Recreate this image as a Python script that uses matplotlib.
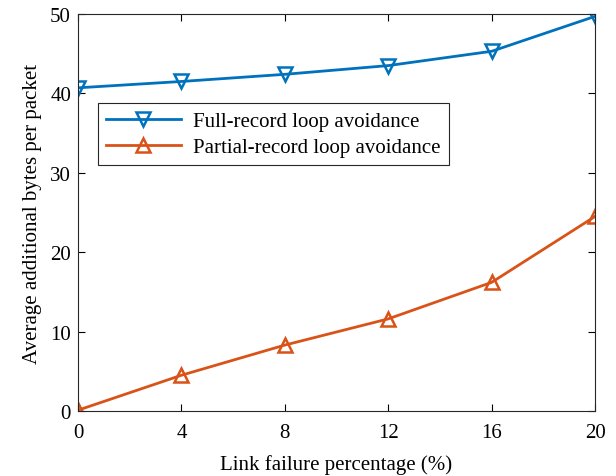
import matplotlib
matplotlib.use("Agg")
import matplotlib.pyplot as plt

# Données
taux_panne = [0, 4, 8, 12, 16, 20]
full_record = [40.7, 41.5, 42.4, 43.5, 45.3, 49.7]
partial_record = [0.1, 4.5, 8.3, 11.6, 16.2, 24.5]

plt.rcParams['font.family'] = ['Liberation Serif', 'DejaVu Serif']
plt.rcParams['font.size'] = 15

fig = plt.figure(figsize=(6.16, 4.77), dpi=100)
ax = fig.add_axes([0.1266, 0.1363, 0.8394, 0.8323])

ax.plot(taux_panne, full_record, '-v', color='#0072BD', linewidth=2,
        markersize=10, markerfacecolor='none', markeredgewidth=1.8,
        label='Full-record loop avoidance')
ax.plot(taux_panne, partial_record, '-^', color='#D95319', linewidth=2,
        markersize=10, markerfacecolor='none', markeredgewidth=1.8,
        label='Partial-record loop avoidance')

ax.set_xlim(0, 20)
ax.set_ylim(0, 50)
ax.set_xticks(taux_panne)
ax.set_yticks([0, 10, 20, 30, 40, 50])
ax.tick_params(direction='in', top=True, right=True, length=5, width=0.8, pad=5)
ax.tick_params(axis='x', pad=9)
for s in ax.spines.values():
    s.set_linewidth(0.8)
    s.set_color('#262626')

ax.set_xlabel("Link failure percentage (%)", labelpad=8)
ax.set_ylabel("Average additional bytes per packet", labelpad=6)

leg = ax.legend(loc='upper left', bbox_to_anchor=(0.038, 0.775), fancybox=False,
                edgecolor='#262626', framealpha=1, handlelength=3.6,
                borderpad=0.4, labelspacing=0.3, handletextpad=0.6,
                borderaxespad=0)
leg.get_frame().set_linewidth(0.8)

fig.savefig("out.png", dpi=100)
